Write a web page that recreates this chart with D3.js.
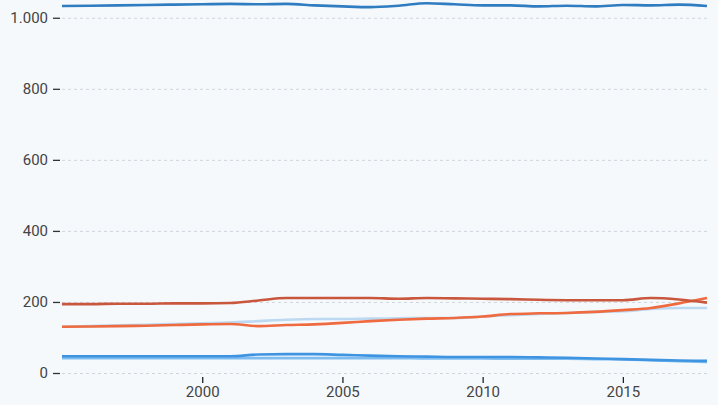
<!DOCTYPE html>
<html><head><meta charset="utf-8">
<script src="https://cdn.jsdelivr.net/npm/d3@7"></script>
<style>
html,body{margin:0;padding:0;background:#f5f9fc;}
svg{display:block;font-family:Roboto,"Noto Sans",sans-serif;}
</style></head><body>
<svg id="c" width="718" height="405"></svg>
<script>
const years = d3.range(1995, 2019);
const seriesNames = ["A","B","C","D","E","F"];
const colors = ["#2f7cc0","#c9573d","#ef6a3f","#bcd9f1","#3f94e2","#7fbdf0"];
const sA = [1033,1034,1035,1036,1037,1038,1039,1038,1039,1035,1032,1030,1034,1041,1038,1035,1035,1032,1034,1032,1036,1035,1037,1033];
const sB = [194,194,195,195,196,196,197,204,211,211,211,211,209,211,210,209,208,206,205,205,205,211,207,198];
const sC = [130,131,132,133,135,137,138,132,135,137,141,146,150,153,155,159,166,168,169,172,177,183,196,211];
const sD = [130,132,134,136,138,140,142,146,150,152,152,153,154,155,155,159,163,166,169,172,174,180,183,183];
const sE = [47,47,47,47,47,47,47,52,53,53,51,49,47,46,45,45,45,44,43,41,39,37,35,34];
const sF = [42,42,42,42,42,42,42,42,42,42,42,42,42,41,41,41,40,40,40,39,38,36,33,31];
const allSeries = [sA,sB,sC,sD,sE,sF];
const yTicks = [0,200,400,600,800,1000];
const xTicks = [2000,2005,2010,2015];

const svg = d3.select("#c");
const m = {l:62, r:11, t:0, b:32};
const W = 718, H = 405;
const x = d3.scaleLinear().domain([1995,2018]).range([m.l, W-m.r]);
const y = d3.scaleLinear().domain([0,1050]).range([H-m.b, m.t]);
const fmt = d => d3.format(",")(d).replace(/,/g,".");

// grid
svg.append("g").selectAll("line").data(yTicks).join("line")
  .attr("x1", m.l).attr("x2", W-m.r)
  .attr("y1", d=>y(d)+0.5).attr("y2", d=>y(d)+0.5)
  .attr("stroke","#cfd6dc").attr("stroke-dasharray","3,3").attr("stroke-width",1);

// y axis
const ya = svg.append("g").attr("transform",`translate(${m.l-2},0)`)
  .call(d3.axisLeft(y).tickValues(yTicks).tickFormat(fmt).tickSize(7).tickPadding(5));
ya.select(".domain").remove();
ya.attr("font-size",15).attr("font-family","Roboto");
ya.selectAll(".tick line").attr("stroke","#333").attr("stroke-width",1.3);
ya.selectAll(".tick text").attr("fill","#444");

// x axis
const xa = svg.append("g").attr("transform",`translate(0,${H-m.b+4})`)
  .call(d3.axisBottom(x).tickValues(xTicks).tickFormat(d3.format("d")).tickSize(6).tickPadding(3));
xa.select(".domain").remove();
xa.attr("font-size",15).attr("font-family","Roboto");
xa.selectAll(".tick line").attr("stroke","#222").attr("stroke-width",1.3);
xa.selectAll(".tick text").attr("fill","#444");

// lines
const line = d3.line().x((d,i)=>x(years[i])).y(d=>y(d)).curve(d3.curveMonotoneX);
const order = [3,2,1,5,4,0];
svg.append("g").selectAll("path").data(order).join("path")
  .attr("d", i=>line(allSeries[i]))
  .attr("fill","none").attr("stroke", i=>colors[i])
  .attr("stroke-width",2.6).attr("stroke-linejoin","round");
</script>
</body></html>
